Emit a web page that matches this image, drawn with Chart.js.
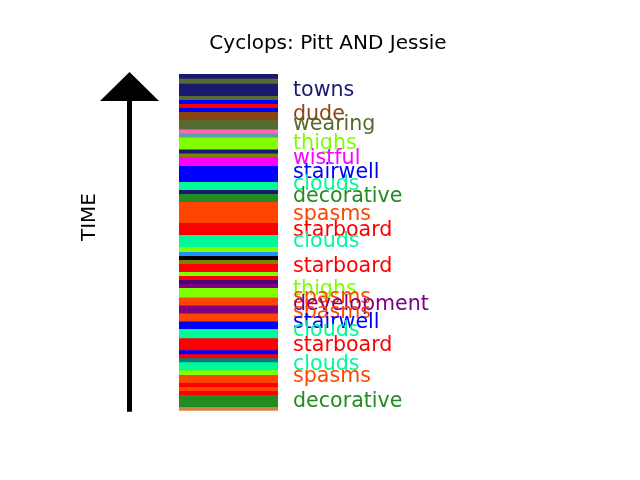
<!DOCTYPE html>
<html><head><meta charset="utf-8">
<script src="https://cdn.jsdelivr.net/npm/chart.js@4"></script>
<style>html,body{margin:0;padding:0;background:#fff}</style>
</head><body>
<canvas id="c" width="640" height="480"></canvas>
<script>
const titleText = 'Cyclops: Pitt AND Jessie';
const axisLabel = 'TIME';

// segment boundaries in time units (bottom = start of time)
const boundaries = [0,1,4,5,6,7,9,10.2,12.2,13.2,14.2,15.2,18.2,20.5,22.4,24.4,26.4,28.4,
  30.75,31.75,32.75,33.75,34.75,36.75,37.75,38.75,39.75,41,44,47,52.25,54.25,55.25,57.25,61.25,
  63.5,64.4,65.4,68.4,69.4,70.4,72.75,74.75,75.75,76.75,77.75,78.75,81.85,83.1,84.2];

// colour of each segment, bottom to top
const segColors = ['peru','forestgreen','red','orangered','red','orangered','chartreuse','mediumspringgreen',
  'teal','red','blue','red','mediumspringgreen','blue','orangered','purple','orangered','chartreuse',
  'purple','indigo','red','chartreuse','red','olive','black','dodgerblue','chartreuse','mediumspringgreen',
  'red','orangered','forestgreen','midnightblue','mediumspringgreen','blue','magenta','olive','midnightblue',
  'chartreuse','cadetblue','hotpink','darkolivegreen','saddlebrown','blue','red','blue','darkolivegreen',
  'midnightblue','darkolivegreen','midnightblue'];

// word labels, top to bottom
const labelWords = ['towns','dude','wearing','thighs','wistful','stairwell','clouds','decorative','spasms',
  'starboard','clouds','starboard','thighs','spasms','development','spasms','stairwell','clouds','starboard',
  'clouds','spasms','decorative'];
const labelTimes = [80.2,74.2,71.7,66.9,63.2,59.6,56.7,53.8,49.2,45.3,42.55,36.3,30.5,28.4,26.6,24.7,22.1,20.2,
  16.5,11.7,8.8,2.55];
const labelColors = ['midnightblue','saddlebrown','darkolivegreen','chartreuse','magenta','blue','mediumspringgreen',
  'forestgreen','orangered','red','mediumspringgreen','red','chartreuse','orangered','purple','orangered','blue',
  'mediumspringgreen','red','mediumspringgreen','orangered','forestgreen'];

const segments = segColors.map((c, i) => ({x: 'strip', y: [boundaries[i], boundaries[i + 1]]}));

const FONT = '20px "DejaVu Sans"';
const LABEL_FONT = '20.6px "DejaVu Sans"';

const decor = {
  id: 'decor',
  afterDatasetsDraw(chart) {
    const ctx = chart.ctx;
    const ca = chart.chartArea;
    const ys = chart.scales.y;
    ctx.save();
    // word labels
    ctx.font = LABEL_FONT;
    ctx.textAlign = 'left';
    ctx.textBaseline = 'alphabetic';
    labelWords.forEach((w, i) => {
      ctx.fillStyle = labelColors[i];
      ctx.fillText(w, ca.right + 15, ys.getPixelForValue(labelTimes[i]) + 6);
    });
    // time arrow
    const ax = ca.left - 49.5;
    const apex = ca.top - 2;
    ctx.fillStyle = '#000';
    ctx.strokeStyle = '#000';
    ctx.lineWidth = 5;
    ctx.beginPath();
    ctx.moveTo(ax, ca.bottom + 1);
    ctx.lineTo(ax, apex + 28);
    ctx.stroke();
    ctx.beginPath();
    ctx.moveTo(ax - 29.5, apex + 29);
    ctx.lineTo(ax + 29.5, apex + 29);
    ctx.lineTo(ax, apex);
    ctx.closePath();
    ctx.fill();
    // TIME label
    ctx.save();
    ctx.translate(ax - 40, ca.top + 143);
    ctx.rotate(-Math.PI / 2);
    ctx.textAlign = 'center';
    ctx.textBaseline = 'middle';
    ctx.font = FONT;
    ctx.fillText(axisLabel, 0, 0);
    ctx.restore();
    // title
    ctx.font = FONT;
    ctx.textAlign = 'center';
    ctx.textBaseline = 'alphabetic';
    ctx.fillStyle = '#000';
    ctx.fillText(titleText, 328, 48.5);
    ctx.restore();
  }
};

new Chart(document.getElementById('c'), {
  type: 'bar',
  data: {
    labels: ['strip'],
    datasets: [{
      data: segments,
      backgroundColor: segColors,
      borderWidth: 0,
      barPercentage: 1,
      categoryPercentage: 1,
      grouped: false
    }]
  },
  options: {
    responsive: false,
    animation: false,
    devicePixelRatio: 1,
    layout: {padding: {top: 74, bottom: 69.3, left: 179, right: 362}},
    scales: {
      x: {display: false},
      y: {display: false, min: 0, max: boundaries[boundaries.length - 1]}
    },
    plugins: {legend: {display: false}, tooltip: {enabled: false}, title: {display: false}}
  },
  plugins: [decor]
});
</script>
</body></html>
